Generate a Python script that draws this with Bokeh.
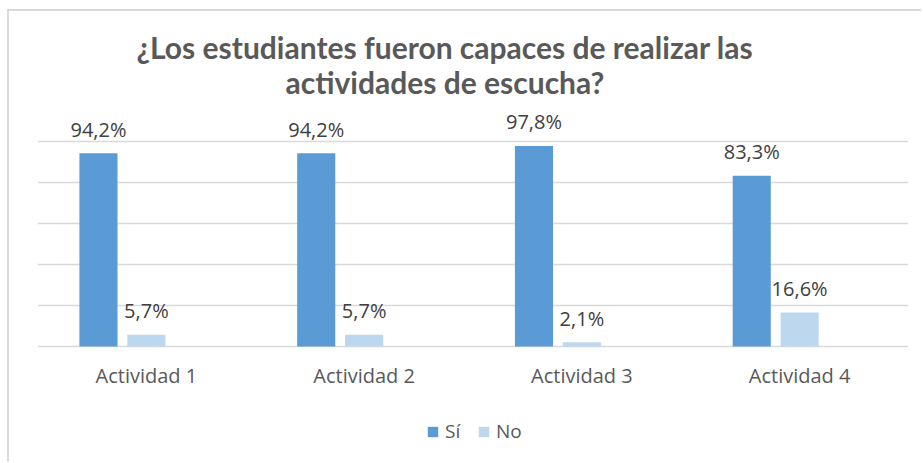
from bokeh.plotting import figure
from bokeh.models import (FactorRange, Range1d, ColumnDataSource, Label, Legend,
                          LegendItem, FixedTicker)
from bokeh.transform import dodge
from bokeh.core.properties import value
from bokeh.embed import file_html
from bokeh.resources import INLINE

# ---- data ----
categories = ["Actividad 1", "Actividad 2", "Actividad 3", "Actividad 4"]
si_values = [94.2, 94.2, 97.8, 83.3]
no_values = [5.7, 5.7, 2.1, 16.6]
si_labels = ["94,2%", "94,2%", "97,8%", "83,3%"]
no_labels = ["5,7%", "5,7%", "2,1%", "16,6%"]
series_names = ["Sí", "No"]
grid_ticks = [0, 20, 40, 60, 80, 100]
title_lines = ["¿Los estudiantes fueron capaces de realizar las",
               "actividades de escucha?"]

# ---- style ----
SI_COLOR = "#5B9BD5"
NO_COLOR = "#BDD7EE"
GRID = "#D9D9D9"
TXT = "#595959"
LBL = "#404040"
FONT = "Open Sans"
TITLE_FONT = "Lato"

src = ColumnDataSource(dict(cat=categories, si=si_values, no=no_values,
                            si_lbl=si_labels, no_lbl=no_labels))

p = figure(width=914, height=452, x_range=FactorRange(*categories),
           y_range=Range1d(-57.07, 163.4), output_backend="svg",
           toolbar_location=None, y_axis_location=None,
           min_border_left=28, min_border_right=15, min_border_top=0,
           min_border_bottom=0)
p.styles = {"margin-left": "7px", "margin-top": "9px",
            "border-left": f"2px solid {GRID}", "border-top": f"2px solid {GRID}"}
p.outline_line_color = None
p.background_fill_color = "white"
p.border_fill_color = "white"

p.xgrid.grid_line_color = None
p.ygrid.ticker = FixedTicker(ticks=grid_ticks)
p.ygrid.grid_line_color = GRID
p.ygrid.grid_line_width = 1.5

ax = p.xaxis[0]
ax.fixed_location = 0
ax.axis_line_color = None
ax.major_tick_line_color = None
ax.minor_tick_line_color = None
ax.major_tick_out = 0
ax.major_tick_in = 0
ax.major_label_standoff = 16
ax.major_label_text_font = FONT
ax.major_label_text_font_size = "20px"
ax.major_label_text_color = TXT

r_si = p.vbar(x=dodge("cat", -0.22, range=p.x_range), top="si", width=0.175,
              source=src, fill_color=SI_COLOR, line_color=None)
r_no = p.vbar(x=dodge("cat", 0.0, range=p.x_range), top="no", width=0.175,
              source=src, fill_color=NO_COLOR, line_color=None)

for off, col, lab in [(-0.22, "si", "si_lbl"), (0.0, "no", "no_lbl")]:
    p.text(x=dodge("cat", off, range=p.x_range), y=col, text=lab, source=src,
           text_align="center", text_baseline="alphabetic", y_offset=-24,
           text_font=value(FONT), text_font_size="20px", text_color=LBL)

for i, line in enumerate(title_lines):
    p.add_layout(Label(x=1.871, y=146.3 - i * 17.5, text=line,
                       text_align="center", text_baseline="middle",
                       text_font=TITLE_FONT, text_font_style="bold",
                       text_font_size="30px", text_color=TXT))

legend = Legend(items=[LegendItem(label=series_names[0], renderers=[r_si]),
                       LegendItem(label=series_names[1], renderers=[r_no])],
                orientation="horizontal", location=(389, 19),
                glyph_width=13, glyph_height=13, label_height=13,
                label_standoff=6, spacing=12, padding=0, margin=0,
                border_line_color=None, background_fill_alpha=0,
                label_text_font=FONT, label_text_font_size="19px",
                label_text_color=TXT)
p.add_layout(legend, "center")

open("out.html", "w").write(file_html(p, INLINE))
